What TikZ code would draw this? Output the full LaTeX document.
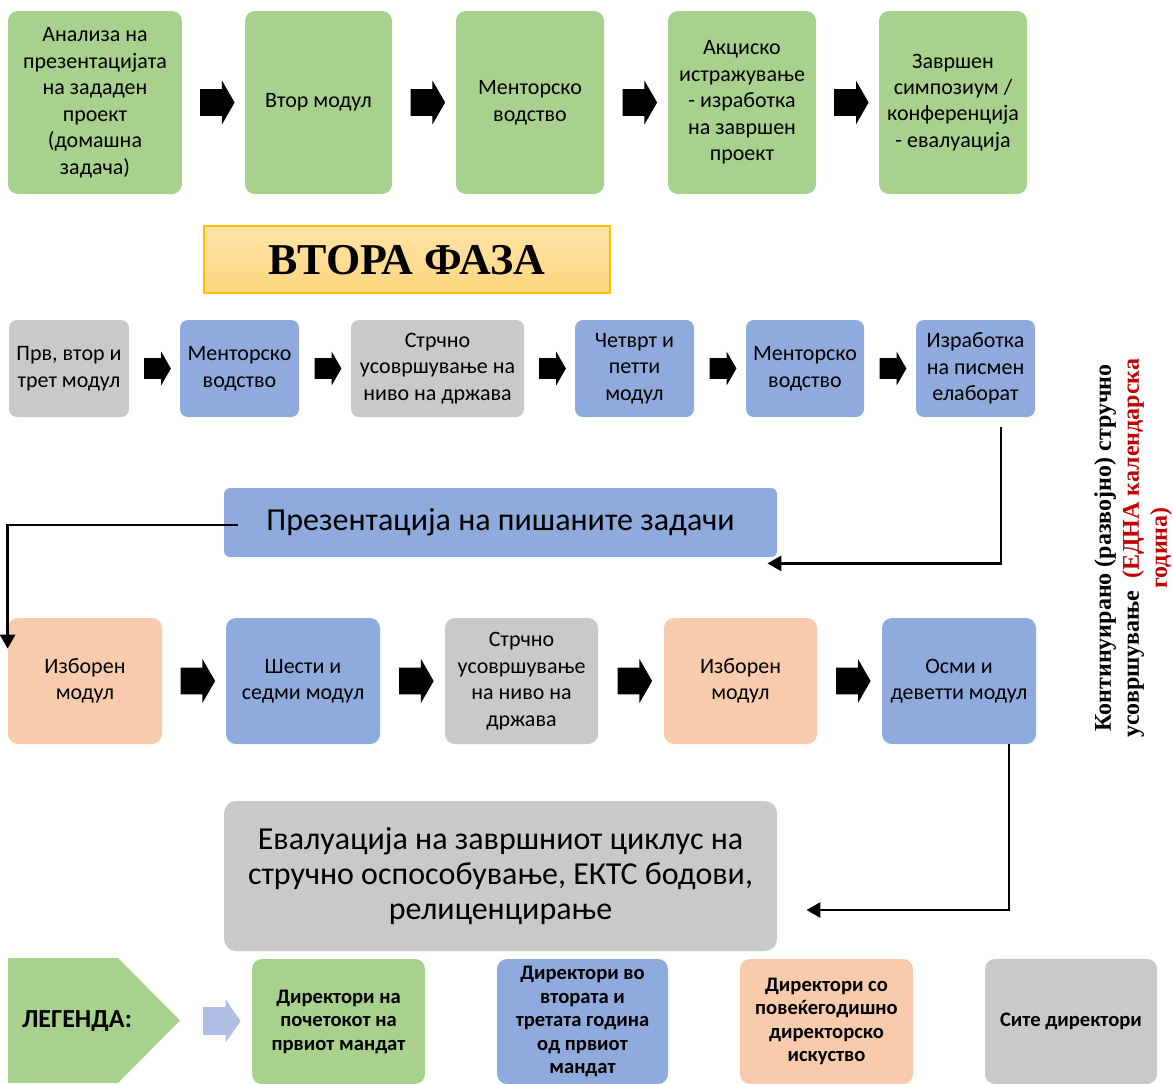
\documentclass[tikz,border=0pt]{standalone}
\usepackage{fontspec}
\setmainfont{Carlito}
\newfontfamily\timesfont{Liberation Serif}
\usetikzlibrary{shapes.arrows,arrows.meta}

\definecolor{boxgreen}{HTML}{A9D18E}
\definecolor{boxblue}{HTML}{8FAADC}
\definecolor{boxgrey}{HTML}{C9C9C9}
\definecolor{boxpeach}{HTML}{F8CBAD}
\definecolor{phasetop}{HTML}{FFE3A8}
\definecolor{phasebottom}{HTML}{FFD67E}
\definecolor{phaseline}{HTML}{FFC000}
\definecolor{legendarrow}{HTML}{B0BEE6}
\definecolor{darkred}{HTML}{C00000}

\begin{document}
\begin{tikzpicture}[%
    x=0.5pt, y=-0.5pt,
    box/.style={
        rectangle,
        rounded corners=5pt,
        align=center,
        inner sep=1pt,
        font=\fontsize{11}{13.25}\selectfont
        },
    greenbox/.style={box, fill=boxgreen},
    bluebox/.style={box, fill=boxblue},
    greybox/.style={box, fill=boxgrey},
    peachbox/.style={box, fill=boxpeach},
    topbox/.style={minimum width=74pt, minimum height=91.5pt},
    midbox/.style={minimum width=59.5pt, minimum height=48.5pt, rounded corners=4pt},
    lowbox/.style={minimum width=77pt, minimum height=63pt},
    legendbox/.style={
        minimum width=86pt,
        minimum height=62.5pt,
        font=\bfseries\fontsize{10.3}{11.75}\selectfont
        },
    widebox/.style={minimum width=276.5pt},
    phasebox/.style={
        minimum width=203pt,
        minimum height=33.5pt,
        draw=phaseline,
        line width=0.6pt,
        top color=phasetop,
        bottom color=phasebottom,
        text depth=-1pt,
        font=\timesfont\bfseries\fontsize{22}{26}\selectfont
        },
    bigarrow/.style={
        single arrow,
        fill=black,
        inner sep=6.5pt,
        single arrow head extend=4.25pt,
        single arrow tip angle=120,
        minimum height=16pt
        },
    smallarrow/.style={
        single arrow,
        fill=black,
        inner sep=5pt,
        single arrow head extend=3.25pt,
        single arrow tip angle=120,
        minimum height=12.5pt
        },
    legendpointer/.style={
        single arrow,
        fill=legendarrow,
        inner sep=6.75pt,
        single arrow head extend=3.75pt,
        single arrow tip angle=110,
        minimum height=17pt
        },
    flow/.style={line width=1.4pt, -{Triangle[length=7pt,width=7.5pt]}}
]

\useasboundingbox (0,0) rectangle (1173,1083);
\clip (0,0) rectangle (1173,1083);

% first row
\node[greenbox, topbox, minimum width=87pt] (b1) at (95,102.5)
    {Анализа на\\презентацијата\\на зададен\\проект\\(домашна\\задача)};
\node[greenbox, topbox, minimum width=73.5pt] (b2) at (318.5,102.5) {Втор модул};
\node[greenbox, topbox] (b3) at (530,102.5) {Менторско\\водство};
\node[greenbox, topbox] (b4) at (742,102.5)
    {Акциско\\истражување\\- изработка\\на завршен\\проект};
\node[greenbox, topbox] (b5) at (953,102.5)
    {Завршен\\симпозиум /\\конференција\\- евалуација};

\node[phasebox] (phase) at (407,259.5) {ВТОРА ФАЗА};

% second phase
\node[greybox, midbox, minimum width=60pt] (c1) at (69,368.5) {Прв, втор и\\трет модул};
\node[bluebox, midbox] (c2) at (239.5,368.5) {Менторско\\водство};
\node[greybox, midbox, minimum width=86.5pt] (c3) at (437.5,368.5)
    {Стрчно\\усовршување на\\ниво на држава};
\node[bluebox, midbox] (c4) at (634.5,368.5) {Четврт и\\петти\\модул};
\node[bluebox, midbox, minimum width=59pt] (c5) at (805,368.5) {Менторско\\водство};
\node[bluebox, midbox] (c6) at (975.5,368.5) {Изработка\\на писмен\\елаборат};

\node[bluebox, widebox, minimum height=34.5pt, rounded corners=3pt,
    font=\fontsize{16}{18.5}\selectfont] (pres) at (500.5,522.5)
    {Презентација на пишаните задачи};

\node[peachbox, lowbox] (d1) at (85,681) {Изборен\\модул};
\node[bluebox, lowbox] (d2) at (303,681) {Шести и\\седми модул};
\node[greybox, lowbox, minimum width=76.5pt] (d3) at (521.5,681)
    {Стрчно\\усовршување\\на ниво на\\држава};
\node[peachbox, lowbox, minimum width=76.5pt] (d4) at (740.5,681) {Изборен\\модул};
\node[bluebox, lowbox] (d5) at (959,681) {Осми и\\деветти модул};

\node[greybox, widebox, minimum height=75pt, rounded corners=6pt,
    font=\fontsize{16}{17.5}\selectfont] (eval) at (500.5,876)
    {Евалуација на завршниот циклус на\\стручно оспособување, ЕКТС бодови,\\релиценцирање};

\foreach \a/\b in {b1/b2,b2/b3,b3/b4,b4/b5,d1/d2,d2/d3,d3/d4,d4/d5}
    \path (\a) -- node[bigarrow] {} (\b);
\foreach \a/\b in {c1/c2,c2/c3,c3/c4,c4/c5,c5/c6}
    \path (\a) -- node[smallarrow] {} (\b);

\draw[flow] ([xshift=12.75pt,yshift=-5pt]c6.south) |- ([xshift=-5pt,yshift=-3pt]pres.south east);
\draw[flow] ([xshift=7pt,yshift=-1.25pt]pres.west) -| ([yshift=-15.5pt]d1.north west);
\draw[flow] ([xshift=25pt]d5.south) |- ([xshift=14.5pt,yshift=-17pt]eval.east);

\node[rotate=90, align=center,
    font=\timesfont\bfseries\fontsize{12}{14}\selectfont] (cpd) at (1133,548)
    {Континуирано (развојно) стручно\\усовршување\ \ {\color{darkred}(ЕДНА календарска}\\{\color{darkred}година)}};

% legend
\fill[boxgreen] (8,958) -- (118,958) -- (180,1020.5) -- (118,1083) -- (8,1083) -- cycle;
\node[font=\bfseries\fontsize{13}{15}\selectfont] (legend) at (77,1021) {ЛЕГЕНДА:};
\node[legendpointer] (pointer) at (217,1021) {};

\node[greenbox, legendbox, minimum width=86.5pt] (l1) at (338.5,1021.5)
    {Директори на\\почетокот на\\првиот мандат};
\node[bluebox, legendbox, minimum width=85.5pt] (l2) at (582.5,1021.5)
    {Директори во\\втората и\\третата година\\од првиот\\мандат};
\node[peachbox, legendbox, minimum width=86.5pt] (l3) at (826.5,1021.5)
    {Директори со\\повеќегодишно\\директорско\\искуство};
\node[greybox, legendbox] (l4) at (1071,1021.5) {Сите директори};

\end{tikzpicture}
\end{document}
